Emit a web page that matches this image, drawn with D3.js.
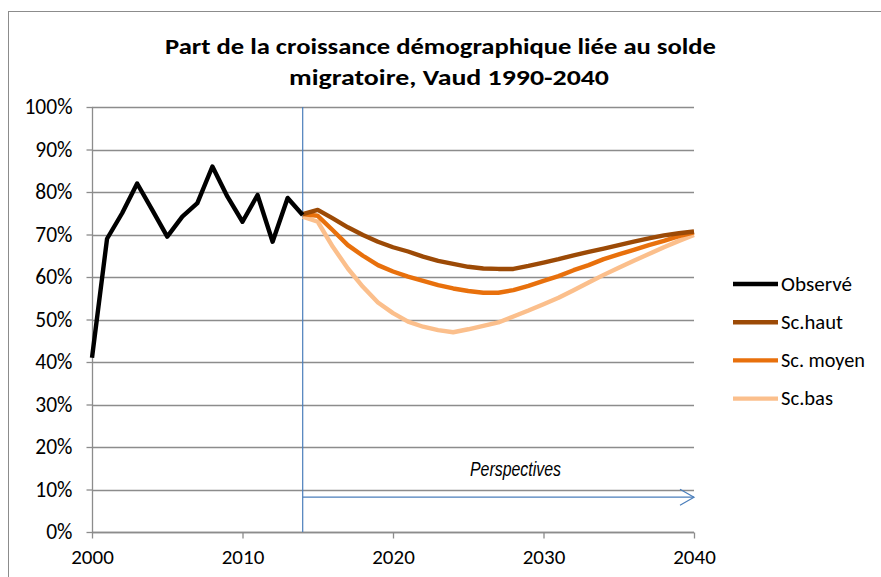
<!DOCTYPE html>
<html><head><meta charset="utf-8">
<script src="https://cdn.jsdelivr.net/npm/d3@7"></script>
<style>body{margin:0;background:#fff}svg{display:block}</style>
</head><body>
<svg id="c" width="881" height="577"></svg>
<script>
const titleLines = ["Part de la croissance démographique liée au solde", "migratoire, Vaud 1990-2040"];
const observedYears = [2000,2001,2002,2003,2004,2005,2006,2007,2008,2009,2010,2011,2012,2013,2014];
const observed = [0.41,0.69,0.75,0.82,0.758,0.695,0.742,0.774,0.86,0.789,0.73,0.793,0.683,0.786,0.746];
const scenYears = [2014,2015,2016,2017,2018,2019,2020,2021,2022,2023,2024,2025,2026,2027,2028,2029,2030,2031,2032,2033,2034,2035,2036,2037,2038,2039,2040];
const scHaut = [0.748,0.758,0.738,0.717,0.699,0.683,0.670,0.660,0.648,0.638,0.631,0.624,0.620,0.619,0.619,0.626,0.634,0.642,0.651,0.659,0.667,0.675,0.683,0.691,0.698,0.703,0.707];
const scMoyen = [0.748,0.744,0.710,0.675,0.650,0.628,0.613,0.601,0.591,0.581,0.573,0.567,0.563,0.563,0.569,0.579,0.591,0.602,0.616,0.628,0.642,0.653,0.664,0.675,0.685,0.696,0.705];
const scBas = [0.742,0.730,0.671,0.620,0.577,0.540,0.515,0.495,0.483,0.475,0.470,0.477,0.485,0.493,0.507,0.521,0.536,0.551,0.569,0.587,0.605,0.622,0.638,0.654,0.670,0.685,0.699];
const yTicks = [0,0.1,0.2,0.3,0.4,0.5,0.6,0.7,0.8,0.9,1.0];
const xTicks = [2000,2010,2020,2030,2040];
const seriesNames = ["Observé","Sc.haut","Sc. moyen","Sc.bas"];
const seriesColors = ["#000000","#9c4a06","#e8700c","#fbbf8c"];
const perspectivesYear = 2014;
const perspectivesLabel = "Perspectives";
const arrowLevel = 0.082;

const svg = d3.select("#c");
const font = "Carlito, Calibri, Lato, 'Open Sans', sans-serif";

// outer frame
svg.append("rect").attr("x",8.5).attr("y",11.5).attr("width",900).attr("height",600)
  .attr("fill","#fff").attr("stroke","#8c8c8c").attr("stroke-width",1);

const x = d3.scaleLinear().domain([2000,2040]).range([92,694]);
const y = d3.scaleLinear().domain([0,1]).range([532,107]);

// title
const titleGeom = [{x:165, y:54, w:551},{x:289, y:85, w:320}];
svg.append("g").selectAll("text").data(titleLines).join("text")
  .attr("x",(d,i)=>titleGeom[i].x).attr("y",(d,i)=>titleGeom[i].y)
  .attr("textLength",(d,i)=>titleGeom[i].w).attr("lengthAdjust","spacingAndGlyphs")
  .attr("font-family",font).attr("font-weight","bold").attr("font-size",23).attr("fill","#000")
  .text(d=>d);

// gridlines
svg.append("g").selectAll("line").data(yTicks).join("line")
  .attr("x1",x(2000)).attr("x2",x(2040)).attr("y1",d=>Math.round(y(d))+0.5).attr("y2",d=>Math.round(y(d))+0.5)
  .attr("stroke","#8c8c8c").attr("stroke-width",1.3);

// y axis
const yAxis = d3.axisLeft(y).tickValues(yTicks).tickFormat(d3.format(".0%")).tickSize(6).tickPadding(14);
const gy = svg.append("g").attr("transform",`translate(${x(2000)+0.5},0)`).call(yAxis);
gy.select(".domain").attr("stroke","#8c8c8c").attr("stroke-width",1.3).attr("d",`M0,${y(1)}V${y(0)}`);
gy.selectAll(".tick line").attr("stroke","#8c8c8c").attr("stroke-width",1.3);
gy.selectAll(".tick text").attr("font-family",font).attr("font-size",21.5).attr("fill","#000");

// x axis
const xAxis = d3.axisBottom(x).tickValues(xTicks).tickFormat(d3.format("d")).tickSize(6).tickPadding(11);
const gx = svg.append("g").attr("transform",`translate(0,${Math.round(y(0))+0.5})`).call(xAxis);
gx.select(".domain").attr("stroke","#8c8c8c").attr("stroke-width",1.3).attr("d",`M${x(2000)},0H${x(2040)}`);
gx.selectAll(".tick line").attr("stroke","#8c8c8c").attr("stroke-width",1.3);
gx.selectAll(".tick text").attr("font-family",font).attr("font-size",21).attr("fill","#000");

// vertical line
svg.append("line").attr("x1",x(perspectivesYear)).attr("x2",x(perspectivesYear))
  .attr("y1",y(1)).attr("y2",y(0)).attr("stroke","#4a7ebb").attr("stroke-width",1.2);

// arrow
const ay = y(arrowLevel);
svg.append("line").attr("x1",x(perspectivesYear)).attr("x2",x(2040)).attr("y1",ay).attr("y2",ay)
  .attr("stroke","#4a7ebb").attr("stroke-width",1.2);
svg.append("path").attr("d",`M${x(2040)-14},${ay-8}L${x(2040)},${ay}L${x(2040)-14},${ay+8}`)
  .attr("fill","none").attr("stroke","#4a7ebb").attr("stroke-width",1.2);
svg.append("text").attr("x",470).attr("y",476).attr("textLength",91).attr("lengthAdjust","spacingAndGlyphs")
  .attr("font-family","'Liberation Sans', Arial, sans-serif")
  .attr("font-style","italic").attr("font-size",19.5).attr("fill","#000").text(perspectivesLabel);

// lines
const line = d3.line().x(d=>x(d[0])).y(d=>y(d[1]));
const allSeries = [
  observedYears.map((yr,i)=>[yr,observed[i]]),
  scenYears.map((yr,i)=>[yr,scHaut[i]]),
  scenYears.map((yr,i)=>[yr,scMoyen[i]]),
  scenYears.map((yr,i)=>[yr,scBas[i]])
];
[3,2,1,0].forEach(i=>{
  svg.append("path").attr("d",line(allSeries[i])).attr("fill","none")
    .attr("stroke",seriesColors[i]).attr("stroke-width",4.4).attr("stroke-linejoin","round");
});

// legend
const legendWidths = [71,62,84,52];
const lg = svg.append("g");
seriesNames.forEach((n,i)=>{
  const ly = 284 + i*38.2;
  lg.append("line").attr("x1",733).attr("x2",778).attr("y1",ly).attr("y2",ly)
    .attr("stroke",seriesColors[i]).attr("stroke-width",4.4);
  lg.append("text").attr("x",781).attr("y",ly+6.5).attr("font-family",font).attr("font-size",19.5)
    .attr("textLength",legendWidths[i]).attr("lengthAdjust","spacingAndGlyphs")
    .attr("fill","#000").text(n);
});
</script>
</body></html>
